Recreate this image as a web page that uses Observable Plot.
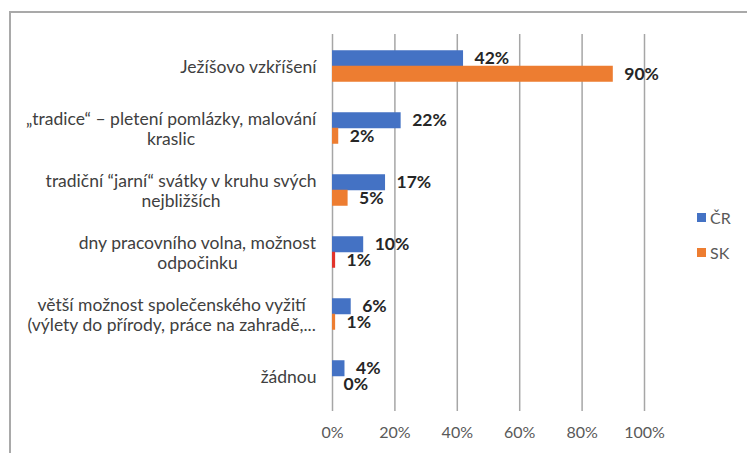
<!DOCTYPE html>
<html><head><meta charset="utf-8">
<script src="https://cdn.jsdelivr.net/npm/d3@7"></script>
<script src="https://cdn.jsdelivr.net/npm/@observablehq/plot@0.6"></script>
<style>
body{margin:0;background:#fff;}
#wrap{position:relative;width:747px;height:453px;font-family:Lato,"Open Sans",sans-serif;overflow:hidden;}
#frame{position:absolute;left:9px;top:11px;width:800px;height:500px;border-left:2px solid #a9a9a9;border-top:2px solid #a9a9a9;}
#chart{position:absolute;left:0;top:0;}
#legend{position:absolute;left:697px;top:208px;font-size:16px;color:#595959;}
.li{display:flex;align-items:center;height:18px;margin-bottom:17px;}
.sw{width:9px;height:9px;margin-right:4px;}
</style></head><body>
<div id="wrap"><div id="frame"></div><div id="chart"></div><div id="legend"></div></div>
<script>
const categories = [
  "Ježíšovo vzkříšení",
  "„tradice“ – pletení pomlázky, malování kraslic",
  "tradiční “jarní“ svátky v kruhu svých nejbližších",
  "dny pracovního volna, možnost odpočinku",
  "větší možnost společenského vyžití (výlety do přírody, práce na zahradě,...",
  "žádnou"
];
const categoryLabels = [
  "Ježíšovo vzkříšení",
  "„tradice“ – pletení pomlázky, malování\nkraslic",
  "tradiční “jarní“ svátky v kruhu svých\nnejbližších",
  "dny pracovního volna, možnost\nodpočinku",
  "větší možnost společenského vyžití\n(výlety do přírody, práce na zahradě,...",
  "žádnou"
];
const seriesNames = ["ČR", "SK"];
const crValues = [0.42, 0.22, 0.17, 0.10, 0.06, 0.04];
const skValues = [0.90, 0.02, 0.05, 0.01, 0.01, 0.00];
const xTicks = [0, 0.2, 0.4, 0.6, 0.8, 1.0];
const highlightedSk = "dny pracovního volna, možnost odpočinku";

const colors = {"ČR": "#4472c4", "SK": "#ed7d31"};
const highlightColor = "#e2332a";

const crData = categories.map((c, i) => ({category: c, value: crValues[i], series: "ČR"}));
const skData = categories.map((c, i) => ({category: c, value: skValues[i], series: "SK"}));
const pct = d => Math.round(d.value * 100) + "%";
const off = 7.75;

const plot = Plot.plot({
  width: 747, height: 453,
  marginLeft: 332, marginRight: 103, marginTop: 34, marginBottom: 46,
  style: {fontFamily: "Lato, 'Open Sans', sans-serif", background: "transparent"},
  x: {domain: [0, 1]},
  y: {domain: categories, paddingInner: 0.75, paddingOuter: 0.375},
  marks: [
    Plot.gridX(xTicks, {stroke: "#a6a6a6", strokeOpacity: 1, strokeWidth: 1.5}),
    Plot.axisX({ticks: xTicks, tickFormat: d => Math.round(d * 100) + "%", tickSize: 4, tickPadding: 15,
      stroke: "#a6a6a6", strokeWidth: 1.5, fill: "#595959", fontSize: 16, label: null}),
    Plot.axisY({tickSize: 0, tickPadding: 16, tickFormat: d => categoryLabels[categories.indexOf(d)],
      fontSize: 17.5, fill: "#404040", lineHeight: 1.12, label: null}),
    Plot.barX(crData, {x: "value", y: "category", fill: colors["ČR"], dy: -off}),
    Plot.barX(skData, {x: "value", y: "category", dy: off,
      fill: d => d.category === highlightedSk ? highlightColor : colors["SK"]}),
    Plot.text(crData, {x: "value", y: "category", text: pct, dx: 11, dy: -off, textAnchor: "start",
      fontWeight: "bold", fontSize: 17.5, fill: "#262626"}),
    Plot.text(skData, {x: "value", y: "category", text: pct, dx: 11, dy: off, textAnchor: "start",
      fontWeight: "bold", fontSize: 17.5, fill: "#262626"})
  ]
});
document.getElementById("chart").appendChild(plot);

// center wrapped category labels like the original
const tg = plot.querySelector('g[aria-label="y-axis tick label"]');
if (tg) tg.querySelectorAll("text").forEach(t => {
  if (t.querySelectorAll("tspan").length > 1) {
    const w = t.getBBox().width;
    t.setAttribute("text-anchor", "middle");
    t.setAttribute("transform", (t.getAttribute("transform") || "") + ` translate(${-w / 2},0)`);
  }
});

const lg = document.getElementById("legend");
seriesNames.forEach(s => {
  const it = document.createElement("div"); it.className = "li";
  const sw = document.createElement("span"); sw.className = "sw"; sw.style.background = colors[s];
  const tx = document.createElement("span"); tx.textContent = s;
  it.appendChild(sw); it.appendChild(tx); lg.appendChild(it);
});
</script>
</body></html>
